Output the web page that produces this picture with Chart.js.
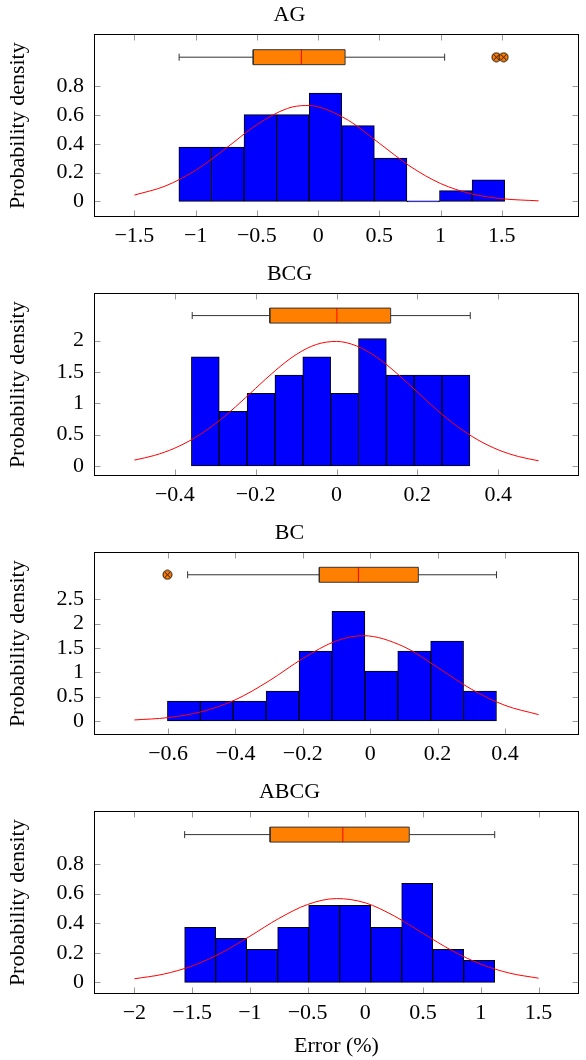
<!DOCTYPE html>
<html>
<head>
<meta charset="utf-8">
<script src="https://cdn.jsdelivr.net/npm/chart.js@4.4.0/dist/chart.umd.min.js"></script>
<style>
  body { margin: 0; background: #fff; }
  canvas { display: block; }
</style>
</head>
<body>
<canvas id="ag" width="586" height="259"></canvas>
<canvas id="bcg" width="586" height="259"></canvas>
<canvas id="bc" width="586" height="259"></canvas>
<canvas id="abcg" width="586" height="283"></canvas>
<script>
// ---- AG ----
const agHistRange = [-1.137, 1.523];
const agDensity = [0.376, 0.376, 0.602, 0.602, 0.752, 0.526, 0.301, 0, 0.075, 0.150];
const agCurveX = [-1.5, -1.25, -1, -0.75, -0.5, -0.25, -0.1, 0, 0.25, 0.5, 0.75, 1, 1.25, 1.5, 1.8];
const agCurveY = [0.044, 0.106, 0.216, 0.370, 0.532, 0.645, 0.665, 0.656, 0.561, 0.403, 0.244, 0.124, 0.053, 0.019, 0.004];
const agBox = [-1.135, -0.53, -0.137, 0.22, 1.033];   // whisker lo, q1, median, q3, whisker hi
const agOutliers = [1.455, 1.515];
const agXTicks = [-1.5, -1, -0.5, 0, 0.5, 1, 1.5];
const agYTicks = [0, 0.2, 0.4, 0.6, 0.8];

// ---- BCG ----
const bcgHistRange = [-0.359, 0.330];
const bcgDensity = [1.742, 0.871, 1.161, 1.452, 1.742, 1.161, 2.032, 1.452, 1.452, 1.452];
const bcgCurveX = [-0.5, -0.45, -0.4, -0.35, -0.3, -0.25, -0.2, -0.15, -0.1, -0.05, 0, 0.05, 0.1, 0.15, 0.2, 0.25, 0.3, 0.35, 0.4, 0.45, 0.5];
const bcgCurveY = [0.095, 0.170, 0.286, 0.453, 0.674, 0.943, 1.240, 1.531, 1.778, 1.939, 1.988, 1.915, 1.734, 1.475, 1.180, 0.886, 0.626, 0.416, 0.259, 0.152, 0.084];
const bcgBox = [-0.357, -0.165, 0.001, 0.134, 0.331];
const bcgOutliers = [];
const bcgXTicks = [-0.4, -0.2, 0, 0.2, 0.4];
const bcgYTicks = [0, 0.5, 1, 1.5, 2];

// ---- BC ----
const bcHistRange = [-0.602, 0.375];
const bcDensity = [0.409, 0.409, 0.409, 0.614, 1.433, 2.252, 1.024, 1.433, 1.638, 0.614];
const bcCurveX = [-0.7, -0.6, -0.5, -0.4, -0.3, -0.2, -0.1, -0.02, 0.1, 0.2, 0.3, 0.4, 0.5];
const bcCurveY = [0.021, 0.069, 0.191, 0.436, 0.823, 1.282, 1.645, 1.750, 1.524, 1.099, 0.654, 0.321, 0.130];
const bcBox = [-0.542, -0.151, -0.035, 0.143, 0.375];
const bcOutliers = [-0.602];
const bcXTicks = [-0.6, -0.4, -0.2, 0, 0.2, 0.4];
const bcYTicks = [0, 0.5, 1, 1.5, 2, 2.5];

// ---- ABCG ----
const abcgHistRange = [-1.565, 1.120];
const abcgDensity = [0.372, 0.298, 0.223, 0.372, 0.521, 0.521, 0.372, 0.670, 0.223, 0.149];
const abcgCurveX = [-2, -1.75, -1.5, -1.25, -1, -0.75, -0.5, -0.25, 0, 0.25, 0.5, 0.75, 1, 1.25, 1.5];
const abcgCurveY = [0.024, 0.055, 0.111, 0.198, 0.312, 0.432, 0.527, 0.567, 0.538, 0.449, 0.331, 0.215, 0.123, 0.062, 0.028];
const abcgBox = [-1.565, -0.825, -0.195, 0.380, 1.12];
const abcgOutliers = [];
const abcgXTicks = [-2, -1.5, -1, -0.5, 0, 0.5, 1, 1.5];
const abcgYTicks = [0, 0.2, 0.4, 0.6, 0.8];

const BLUE = '#0000ff';
const ORANGE = '#ff8000';
const RED = '#ff0000';
const GREY = '#333333';

Chart.defaults.font.family = '"Liberation Serif", "Times New Roman", serif';
Chart.defaults.color = '#000';

// pgfplots-like frame with inward tick marks on all four sides
const axisFrame = {
  id: 'axisFrame',
  afterDatasetsDraw(chart) {
    const { ctx, chartArea: a, scales: { x, y } } = chart;
    const L = Math.round(a.left) + 0.5, R = Math.round(a.right) - 0.5;
    const T = Math.round(a.top) + 0.5, B = Math.round(a.bottom) - 0.5;
    ctx.save();
    ctx.lineWidth = 1;
    ctx.strokeStyle = '#9a9a9a';
    ctx.beginPath();
    x.ticks.forEach(t => {
      const px = Math.round(x.getPixelForValue(t.value)) + 0.5;
      ctx.moveTo(px, B); ctx.lineTo(px, B - 6);
      ctx.moveTo(px, T); ctx.lineTo(px, T + 6);
    });
    y.ticks.forEach(t => {
      const py = Math.round(y.getPixelForValue(t.value)) + 0.5;
      ctx.moveTo(L, py); ctx.lineTo(L + 6, py);
      ctx.moveTo(R, py); ctx.lineTo(R - 6, py);
    });
    ctx.stroke();
    ctx.strokeStyle = '#000';
    ctx.strokeRect(L, T, R - L, B - T);
    ctx.restore();
  }
};

function otimesMark() {
  const c = document.createElement('canvas');
  c.width = 11; c.height = 11;
  const g = c.getContext('2d');
  g.beginPath();
  g.arc(5.5, 5.5, 4.5, 0, Math.PI * 2);
  g.fillStyle = ORANGE;
  g.fill();
  g.lineWidth = 0.9;
  g.strokeStyle = '#000';
  g.stroke();
  const d = 4.5 * Math.SQRT1_2;
  g.beginPath();
  g.moveTo(5.5 - d, 5.5 - d); g.lineTo(5.5 + d, 5.5 + d);
  g.moveTo(5.5 + d, 5.5 - d); g.lineTo(5.5 - d, 5.5 + d);
  g.stroke();
  return c;
}
const mark = otimesMark();

const fmt = v => String(v).replace('-', '\u2212');

function panel(id, p) {
  const w = (p.range[1] - p.range[0]) / p.density.length;
  const bars = p.density.map((v, i) => ({ x: p.range[0] + (i + 0.5) * w, y: v }));
  const curve = p.curveX.map((x, i) => ({ x: x, y: p.curveY[i] }));
  const [wl, q1, med, q3, wr] = p.box;
  const by = p.boxY;
  const h = 7.5 * (p.yRange[1] - p.yRange[0]) / 183;

  new Chart(document.getElementById(id), {
    type: 'bar',
    data: {
      datasets: [
        {
          type: 'line', order: 0, data: curve,
          borderColor: RED, borderWidth: 1, pointRadius: 0,
          cubicInterpolationMode: 'monotone', fill: false
        },
        {
          type: 'line', order: 2, data: [{ x: q1, y: by + h }, { x: q3, y: by + h }],
          fill: { value: by - h }, backgroundColor: ORANGE, borderWidth: 0, pointRadius: 0
        },
        {
          type: 'line', order: 1,
          data: [{ x: q1, y: by - h }, { x: q3, y: by - h }, { x: q3, y: by + h }, { x: q1, y: by + h }, { x: q1, y: by - h }],
          borderColor: GREY, borderWidth: 1, pointRadius: 0, fill: false
        },
        {
          type: 'line', order: 1, data: [{ x: med, y: by - h }, { x: med, y: by + h }],
          borderColor: RED, borderWidth: 1, pointRadius: 0, fill: false
        },
        {
          type: 'line', order: 1,
          data: [{ x: wl, y: by }, { x: q1, y: by }, { x: q1, y: null }, { x: q3, y: by }, { x: wr, y: by }],
          spanGaps: false, borderColor: GREY, borderWidth: 1, fill: false,
          pointStyle: 'line', pointRotation: 90, pointRadius: [3.5, 0, 0, 0, 3.5],
          pointBorderColor: GREY, pointBorderWidth: 1
        },
        {
          type: 'line', order: 0, showLine: false,
          data: p.outliers.map(x => ({ x: x, y: by })),
          pointStyle: mark, pointRadius: 5
        },
        {
          type: 'bar', order: 5, data: bars,
          backgroundColor: BLUE, borderColor: '#000', borderWidth: 1, borderSkipped: false,
          barPercentage: 1, categoryPercentage: 1, grouped: false, minBarLength: 1
        }
      ]
    },
    options: {
      responsive: false,
      animation: false,
      events: [],
      layout: { padding: { top: 0, right: 7, left: 0, bottom: 0 } },
      plugins: {
        legend: { display: false },
        tooltip: { enabled: false },
        title: {
          display: true, text: p.title, color: '#000',
          font: { size: 22, weight: 'normal' },
          padding: { top: 2, bottom: 6 }
        }
      },
      scales: {
        x: {
          type: 'linear', min: p.xRange[0], max: p.xRange[1], offset: false,
          grid: { display: false, drawTicks: false },
          border: { display: false },
          afterBuildTicks: s => { s.ticks = p.xTicks.map(v => ({ value: v })); },
          afterFit: s => { s.height = p.xAxisH; },
          ticks: { autoSkip: false, maxRotation: 0, padding: 6, font: { size: 22 }, callback: v => fmt(v) },
          title: {
            display: !!p.xTitle, text: p.xTitle || '',
            font: { size: 22 }, padding: { top: 0, bottom: 1 }
          }
        },
        y: {
          type: 'linear', min: p.yRange[0], max: p.yRange[1],
          grid: { display: false, drawTicks: false },
          border: { display: false },
          afterBuildTicks: s => { s.ticks = p.yTicks.map(v => ({ value: v })); },
          afterFit: s => { s.width = 94; },
          ticks: { autoSkip: false, padding: 10, font: { size: 22 }, callback: v => fmt(v) },
          title: {
            display: true, text: 'Probability density',
            font: { size: 22 }, padding: { top: 5, bottom: 0 }
          }
        }
      }
    },
    plugins: [axisFrame]
  });
}

panel('ag', {
  title: 'AG', range: agHistRange, density: agDensity, curveX: agCurveX, curveY: agCurveY,
  box: agBox, outliers: agOutliers, boxY: 1.0, xTicks: agXTicks, yTicks: agYTicks,
  xRange: [-1.83, 2.13], yRange: [-0.108, 1.158], xAxisH: 42
});
panel('bcg', {
  title: 'BCG', range: bcgHistRange, density: bcgDensity, curveX: bcgCurveX, curveY: bcgCurveY,
  box: bcgBox, outliers: bcgOutliers, boxY: 2.4, xTicks: bcgXTicks, yTicks: bcgYTicks,
  xRange: [-0.6, 0.6], yRange: [-0.159, 2.754], xAxisH: 42
});
panel('bc', {
  title: 'BC', range: bcHistRange, density: bcDensity, curveX: bcCurveX, curveY: bcCurveY,
  box: bcBox, outliers: bcOutliers, boxY: 3.0, xTicks: bcXTicks, yTicks: bcYTicks,
  xRange: [-0.82, 0.62], yRange: [-0.288, 3.459], xAxisH: 42
});
panel('abcg', {
  title: 'ABCG', range: abcgHistRange, density: abcgDensity, curveX: abcgCurveX, curveY: abcgCurveY,
  box: abcgBox, outliers: abcgOutliers, boxY: 1.0, xTicks: abcgXTicks, yTicks: abcgYTicks,
  xRange: [-2.35, 1.85], yRange: [-0.079, 1.157], xAxisH: 66, xTitle: 'Error (%)'
});
</script>
</body>
</html>
